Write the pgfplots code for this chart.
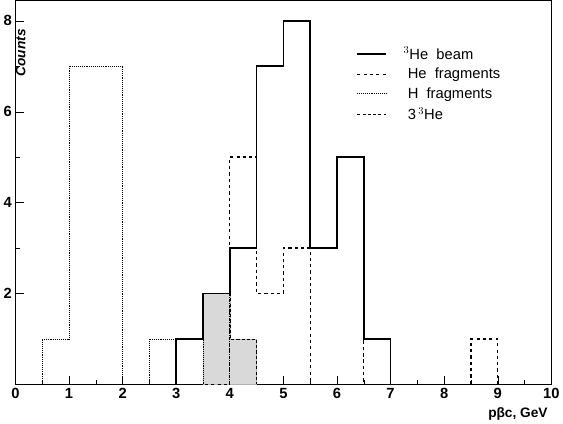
\documentclass[border=0pt]{standalone}
\usepackage{pgfplots}
\pgfplotsset{compat=1.18}
\usepackage{fontspec}
\setmainfont{Liberation Sans}
\begin{document}
\begin{tikzpicture}
\begin{axis}[scale only axis, width=509pt, height=365pt,
 xmin=0, xmax=10, ymin=0, ymax=8.45,
 xtick={0,...,10}, ytick={2,4,6,8},
 minor x tick num=1, minor y tick num=1,
 tick align=inside, xtick pos=bottom, ytick pos=left,
 tick style={black}, major tick length=8pt, minor tick length=4pt,
 /pgf/number format/assume math mode=true,
 ticklabel style={font=\bfseries\fontsize{14}{16}\selectfont},
 xlabel={\bfseries pβc, GeV}, ylabel={\bfseries\itshape Counts},
 xlabel style={at={(1,0)}, anchor=north east, yshift=-18pt, font=\fontsize{13}{15}\selectfont},
 ylabel style={at={(0,1)}, anchor=south east, rotate=0, xshift=-24pt, yshift=-13pt, font=\fontsize{13}{15}\selectfont},
 legend style={draw=none, fill=none, at={(0.63,0.89)}, anchor=north west, font=\fontsize{14}{16}\selectfont, row sep=3pt},
 legend image post style={xscale=1.6},
 legend cell align=left,
]
\addplot[fill=gray!30, draw=gray!60, forget plot, const plot] coordinates {(3.5,2)(4,1)(4.5,1)} \closedcycle;
\addplot[const plot, line width=1.6pt, black] coordinates {(0,0)(3,1)(3.5,2)(4,3)(4.5,7)(5,8)(5.5,3)(6,5)(6.5,1)(7,0)(10,0)};
\addlegendentry{\hspace{14pt}$^3$He\ \ beam}
\addplot[const plot, line width=1.2pt, black, dashed] coordinates {(0,0)(4,5)(4.5,2)(5,3)(5.5,0)(6.5,1)(6.5,0)(8.5,1)(9,0)(10,0)};
\addlegendentry{\hspace{14pt}\ He\ \ fragments}
\addplot[const plot, thick, black, densely dotted] coordinates {(0,0)(0.5,1)(1,7)(2,0)(2.5,1)(3,0)(3.5,2)(4,0)};
\addlegendentry{\hspace{14pt}\ H\ \ fragments}
\addplot[const plot, black, densely dashed] coordinates {(3.5,2)(4,1)(4.5,1)(4.5,0)};
\addlegendentry{\hspace{14pt}\ 3\,$^3$He}
\end{axis}
\end{tikzpicture}
\end{document}
